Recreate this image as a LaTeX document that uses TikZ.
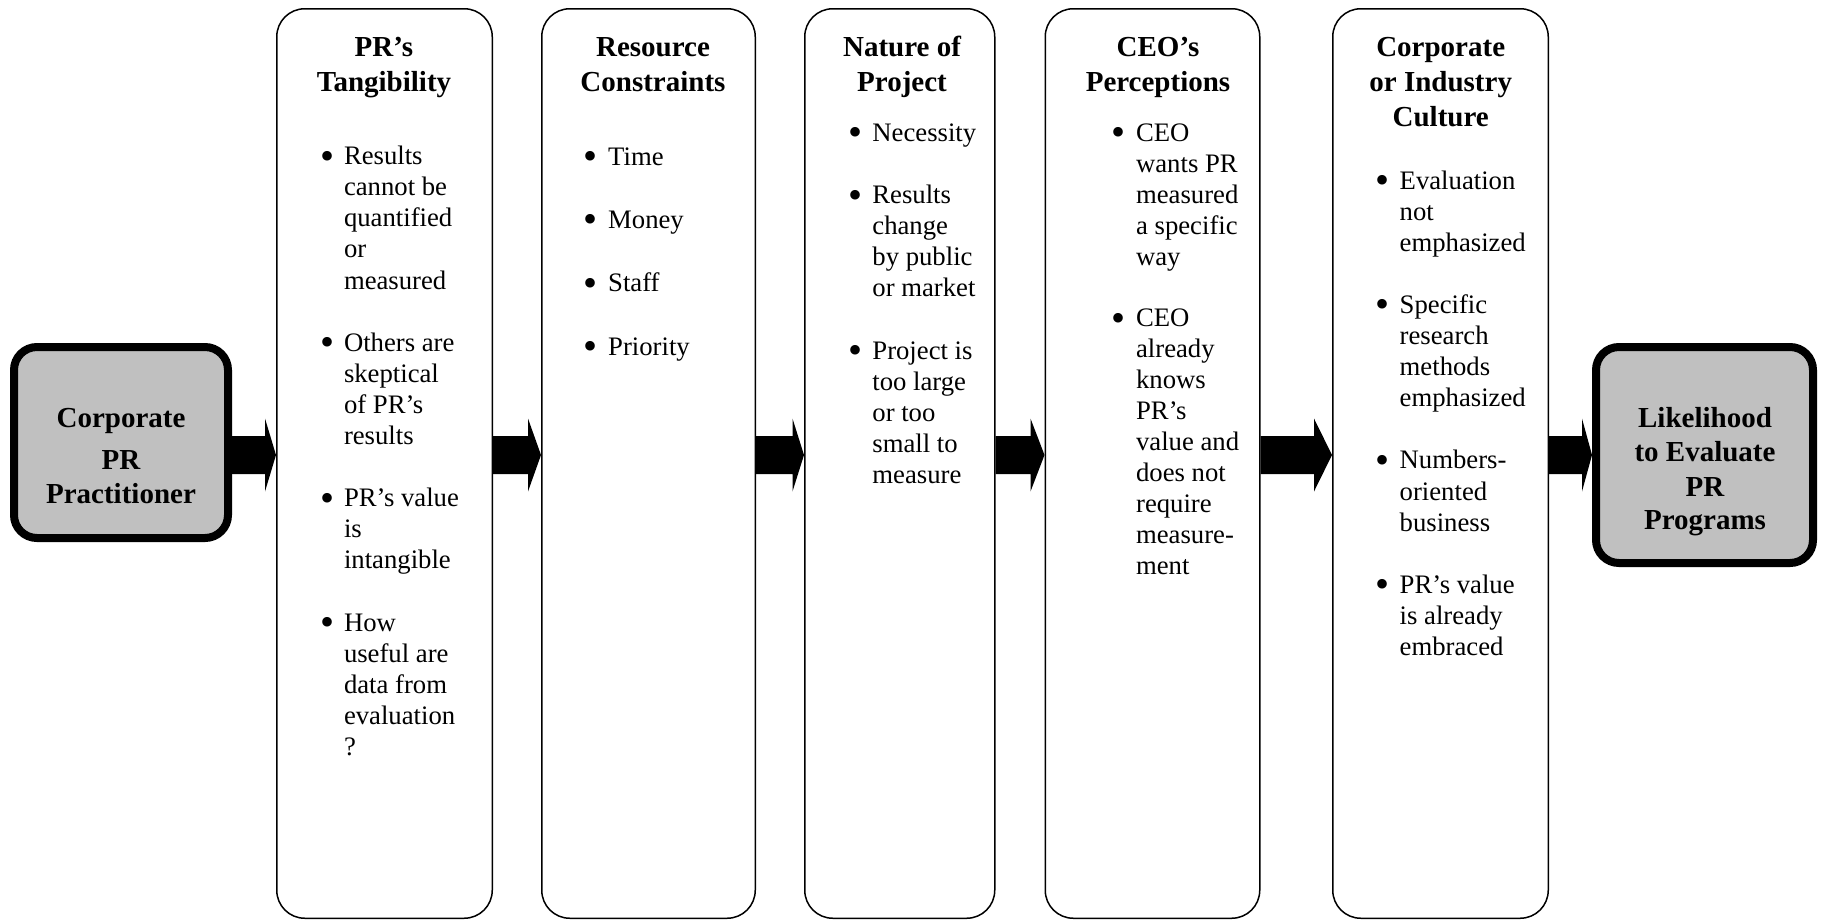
\documentclass[tikz,border=0pt]{standalone}
\usepackage{fontspec}
\usepackage{graphicx}
\setmainfont{Liberation Serif}
\usetikzlibrary{calc}
\definecolor{boxgray}{RGB}{192,192,192}
\tikzset{
  colbox/.style={draw=black, line width=1.5pt, rounded corners=28pt, minimum height=909.5pt, inner sep=0pt},
  endbox/.style={draw=black, fill=boxgray, line width=8pt, rounded corners=23pt, inner sep=0pt},
  headtxt/.style={font=\bfseries\fontsize{29}{35}\selectfont, anchor=base, inner sep=0pt},
  bodytxt/.style={font=\fontsize{26.7}{31.1}\selectfont, anchor=base west, inner sep=0pt},
  bultxt/.style={font=\fontsize{26.7}{31.1}\selectfont, anchor=base, inner sep=0pt},
  arrfill/.style={fill=black, draw=none}
}
\newcommand\prbullet{\raisebox{-4.5pt}{\scalebox{1.5}{\textbullet}}}
\newcommand\prarrow[3]{%
  \fill[arrfill] ($(#1.east|-ay)+(0,-19)$) -- ($(#2.west|-ay)+(-#3,-19)$) -- ($(#2.west|-ay)+(-#3,-36.5)$) -- (#2.west|-ay) -- ($(#2.west|-ay)+(-#3,36.5)$) -- ($(#2.west|-ay)+(-#3,19)$) -- ($(#1.east|-ay)+(0,19)$) -- cycle;}
\begin{document}
\begin{tikzpicture}[x=1pt,y=-1pt]
\useasboundingbox (0,0) rectangle (1821,921);
\coordinate (ay) at (0,455);
% columns
\node[colbox, minimum width=215.5pt] (c1) at (384.5,463.5) {};
\node[colbox, minimum width=213.5pt] (c2) at (648.5,463.5) {};
\node[colbox, minimum width=190pt] (c3) at (899.75,463.5) {};
\node[colbox, minimum width=214.5pt] (c4) at (1152.5,463.5) {};
\node[colbox, minimum width=215.5pt] (c5) at (1440.5,463.5) {};
% end boxes
\node[endbox, minimum width=214pt, minimum height=191pt] (lb) at (121,442.5) {};
\node[endbox, minimum width=217pt, minimum height=216pt] (rb) at (1704.5,455) {};
\node[headtxt] (lb1) at (121,427.5) {Corporate};
\node[headtxt] (lb2) at (121,469.5) {PR};
\node[headtxt] (lb3) at (121,503) {Practitioner};
\node[headtxt] (rb1) at (1705,427.5) {Likelihood};
\node[headtxt] (rb2) at (1705,461.5) {to Evaluate};
\node[headtxt] (rb3) at (1705,496) {PR};
\node[headtxt] (rb4) at (1705,529.5) {Programs};
% arrows
\prarrow{lb}{c1}{11}
\prarrow{c1}{c2}{13}
\prarrow{c2}{c3}{11.5}
\prarrow{c3}{c4}{14}
\prarrow{c4}{c5}{18}
\prarrow{c5}{rb}{10}
% headings
\node[headtxt] (h11) at (384,56.7) {PR’s};
\node[headtxt] (h12) at (384,91.7) {Tangibility};
\node[headtxt] (h21) at (653,56.7) {Resource};
\node[headtxt] (h22) at (653,91.7) {Constraints};
\node[headtxt] (h31) at (902,56.7) {Nature of};
\node[headtxt] (h32) at (902,91.7) {Project};
\node[headtxt] (h41) at (1158,56.7) {CEO’s};
\node[headtxt] (h42) at (1158,91.7) {Perceptions};
\node[headtxt] (h51) at (1440.7,56.7) {Corporate};
\node[headtxt] (h52) at (1440.7,91.7) {or Industry};
\node[headtxt] (h53) at (1440.7,126.7) {Culture};
% column 1
\foreach \i/\txt [count=\k] in {0/Results,1/cannot be,2/quantified,3/or,4/measured,6/Others are,7/skeptical,8/of PR’s,9/results,11/PR’s value,12/is,13/intangible,15/How,16/useful are,17/data from,18/evaluation,19/?}
  \node[bodytxt] (c1t\k) at (343.8,{164.6+\i*31.1}) {\txt};
\foreach \i [count=\k] in {0,6,11,15}
  \node[bultxt] (c1b\k) at (327.5,{164.6+\i*31.1}) {\prbullet};
% column 2
\foreach \i/\txt [count=\k] in {0/Time,2/Money,4/Staff,6/Priority}
  \node[bodytxt] (c2t\k) at (608,{165+\i*31.7}) {\txt};
\foreach \i [count=\k] in {0,2,4,6}
  \node[bultxt] (c2b\k) at (591,{165+\i*31.7}) {\prbullet};
% column 3
\foreach \i/\txt [count=\k] in {0/Necessity,2/Results,3/change,4/by public,5/or market,7/Project is,8/too large,9/or too,10/small to,11/measure}
  \node[bodytxt] (c3t\k) at (872.2,{141.4+\i*31.1}) {\txt};
\foreach \i [count=\k] in {0,2,7}
  \node[bultxt] (c3b\k) at (856,{141.4+\i*31.1}) {\prbullet};
% column 4
\foreach \i/\txt [count=\k] in {0/CEO,1/wants PR,2/measured,3/a specific,4/way,6/CEO,7/already,8/knows,9/PR’s,10/value and,11/does not,12/require,13/measure-,14/ment}
  \node[bodytxt] (c4t\k) at (1135.9,{141.4+\i*30.9}) {\txt};
\foreach \i [count=\k] in {0,6}
  \node[bultxt] (c4b\k) at (1118.4,{141.4+\i*30.9}) {\prbullet};
% column 5
\foreach \i/\txt [count=\k] in {0/Evaluation,1/not,2/emphasized,4/Specific,5/research,6/methods,7/emphasized,9/Numbers-,10/oriented,11/business,13/PR’s value,14/is already,15/embraced}
  \node[bodytxt] (c5t\k) at (1399.5,{189+\i*31.1}) {\txt};
\foreach \i [count=\k] in {0,4,9,13}
  \node[bultxt] (c5b\k) at (1382,{189+\i*31.1}) {\prbullet};
\end{tikzpicture}
\end{document}
